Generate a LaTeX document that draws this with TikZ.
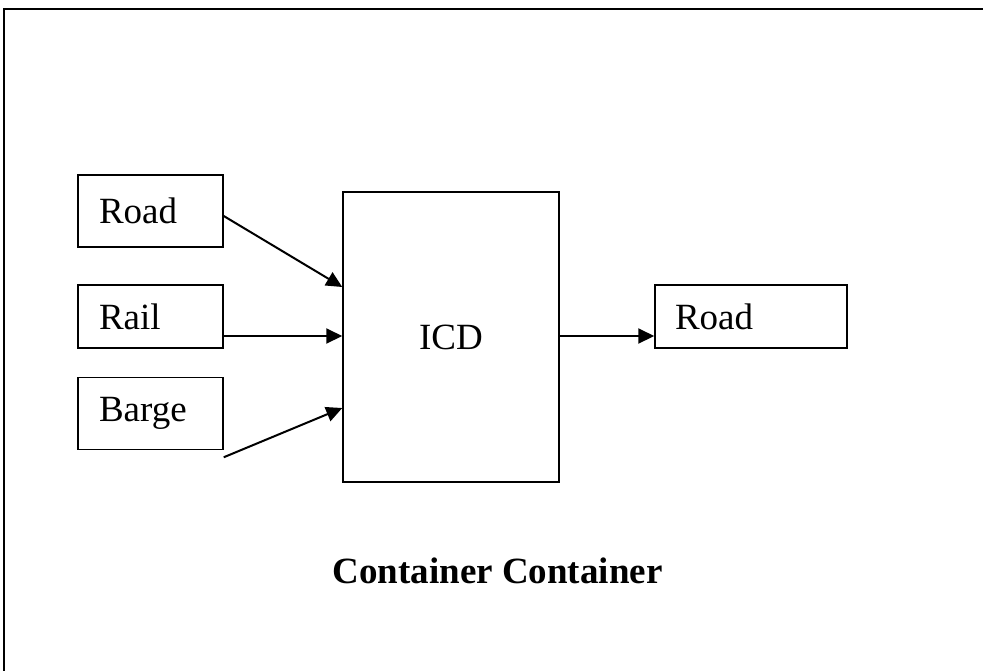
\documentclass[tikz,border=0pt]{standalone}
\usepackage{fontspec}
\setmainfont{Liberation Serif}
\usetikzlibrary{arrows.meta, calc}

\begin{document}
\begin{tikzpicture}[x=0.5pt, y=-0.5pt,
    mode/.style={draw, line width=0.75pt, minimum height=36pt, inner xsep=10.5pt,
      text width=51.5pt, align=left, font=\fontsize{18.5}{22}\selectfont},
    flow/.style={-{Triangle[length=8pt, width=7.5pt]}, line width=1pt}]
        \useasboundingbox (0,0) rectangle (983,670);
        % Outer frame
        \draw[line width=1pt] (4,680) -- (4,8.5) -- (990,8.5);
        % Transport modes in
        \node[mode] (road) at (150.5,211) {Road};
        \node[mode, minimum height=31.5pt] (rail) at (150.5,316.5) {Rail};
        \node[mode] (barge) at (150.5,413.5) {Barge};
        % Inland container depot
        \node[draw, line width=0.75pt, minimum width=108pt, minimum height=145pt,
          font=\fontsize{18.5}{22}\selectfont] (icd) at (451,337) {ICD};
        % Transport mode out
        \node[mode, minimum height=31.5pt, text width=76pt, inner xsep=10pt]
          (roadout) at (751,316.5) {Road};
        % Flows
        \draw[flow] ([yshift=-2.5pt]road.east) -- ([yshift=25pt]icd.west);
        \draw[flow] ([yshift=-9.75pt]rail.east) -- ([yshift=0.5pt]icd.west);
        \draw[flow] ([yshift=-3.5pt]barge.south east) -- ([yshift=-35.5pt]icd.west);
        \draw[flow] ([yshift=0.5pt]icd.east) -- ([yshift=-9.75pt]roadout.west);
        % Caption
        \node[anchor=base, font=\fontsize{18.5}{22}\selectfont\bfseries] (caption)
          at (497.5,583) {Container Container};
      \end{tikzpicture}
\end{document}
